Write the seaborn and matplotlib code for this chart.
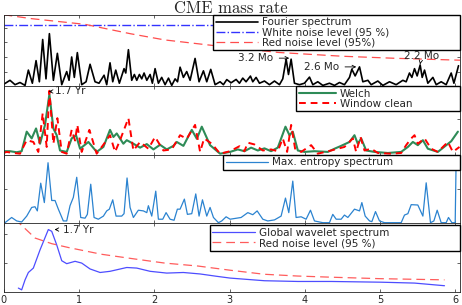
import matplotlib
matplotlib.use('Agg')
import pandas as pd
import matplotlib.pyplot as plt
import seaborn as sns

# frequency axis is in 1/yr
fourier_x = [0.0, 0.086, 0.153, 0.219, 0.286, 0.33, 0.383, 0.432, 0.476, 0.52,
             0.564, 0.609, 0.662, 0.715, 0.773, 0.839, 0.87, 0.905, 0.94, 0.98,
             1.038, 1.096, 1.149, 1.215, 1.268, 1.335, 1.37, 1.414, 1.45, 1.49,
             1.538, 1.6, 1.623, 1.658, 1.702, 1.737, 1.769, 1.804, 1.835, 1.866,
             1.902, 1.946, 1.976, 2.012, 2.056, 2.1, 2.145, 2.19, 2.233, 2.278,
             2.31, 2.344, 2.388, 2.432, 2.477, 2.543, 2.596, 2.654, 2.698, 2.751,
             2.809, 2.875, 2.919, 2.964, 3.021, 3.088, 3.132, 3.176, 3.22, 3.278,
             3.309, 3.353, 3.398, 3.464, 3.53, 3.597, 3.663, 3.707, 3.752, 3.783,
             3.818, 3.862, 3.929, 3.995, 4.062, 4.106, 4.172, 4.239, 4.327, 4.394,
             4.46, 4.526, 4.593, 4.624, 4.668, 4.726, 4.77, 4.837, 4.881, 4.969,
             5.036, 5.124, 5.212, 5.301, 5.345, 5.389, 5.421, 5.456, 5.491, 5.531,
             5.558, 5.589, 5.633, 5.7, 5.744, 5.81, 5.876, 5.943, 5.979, 6.04]
fourier_y = [0.12, 0.4, 0.1, 0.25, 0.05, 1.1, 0.2, 1.75, 0.3, 3.2,
             0.5, 3.6, 0.4, 2.25, 0.1, 1.0, 0.4, 2.0, 0.6, 2.3,
             0.1, 0.3, 1.5, 0.3, 0.2, 0.75, 0.1, 1.6, 0.3, 1.1,
             0.2, 1.2, 0.9, 2.5, 0.4, 0.8, 0.4, 0.8, 0.5, 0.9,
             0.4, 0.8, 0.2, 1.2, 0.2, 0.6, 0.1, 0.55, 0.05, 0.5,
             0.3, 1.3, 0.6, 1.0, 0.4, 1.9, 0.3, 1.05, 0.3, 1.15,
             0.1, 0.3, 0.1, 0.45, 0.23, 0.46, 0.2, 0.55, 0.3, 0.69,
             0.3, 0.6, 0.2, 0.35, 0.1, 0.35, 0.1, 0.5, 1.85, 0.8,
             1.85, 0.2, 0.1, 0.2, 0.62, 0.1, 0.3, 0.05, 0.2, 0.05,
             0.25, 0.1, 0.6, 1.16, 0.7, 1.32, 0.3, 0.4, 0.1, 0.35,
             0.05, 0.3, 0.1, 0.4, 0.3, 0.9, 0.6, 1.2, 0.7, 1.45,
             0.6, 1.1, 0.2, 0.6, 0.1, 0.3, 0.1, 0.9, 0.2, 1.4]
white_noise = 4.2
red1_x = [0.0, 0.37, 1.08, 1.69, 2.14, 2.71, 3.65, 4.5, 5.2, 6.06]
red1_y = [4.9, 4.63, 4.24, 3.59, 3.17, 2.83, 2.31, 2.05, 1.91, 1.78]

welch_x = [0.0, 0.02, 0.086, 0.175, 0.241, 0.308, 0.374, 0.432, 0.485, 0.551,
           0.609, 0.662, 0.706, 0.75, 0.839, 0.905, 0.963, 1.016, 1.127, 1.237,
           1.326, 1.414, 1.459, 1.503, 1.591, 1.636, 1.724, 1.813, 1.902, 1.99,
           2.078, 2.167, 2.255, 2.3, 2.388, 2.499, 2.566, 2.632, 2.742, 2.875,
           3.008, 3.11, 3.198, 3.287, 3.376, 3.464, 3.552, 3.641, 3.743, 3.796,
           3.84, 3.907, 3.995, 4.128, 4.305, 4.394, 4.482, 4.593, 4.659, 4.703,
           4.748, 4.814, 4.925, 5.102, 5.279, 5.368, 5.434, 5.5, 5.567, 5.633,
           5.766, 5.943, 6.032]
welch_y = [0.08, 0.1, 0.1, 0.07, 0.1, 0.65, 0.46, 0.74, 0.31, 0.84,
           1.7, 0.74, 0.55, 0.12, 0.08, 0.46, 0.55, 0.17, 0.36, 0.08,
           0.22, 0.7, 0.5, 0.6, 0.31, 0.41, 0.31, 0.2, 0.3, 0.15,
           0.28, 0.15, 0.25, 0.36, 0.25, 0.7, 0.45, 0.79, 0.27, 0.03,
           0.08, 0.15, 0.1, 0.2, 0.12, 0.18, 0.1, 0.2, 0.79, 0.55,
           0.65, 0.12, 0.08, 0.1, 0.08, 0.17, 0.25, 0.36, 0.55, 0.31,
           0.46, 0.12, 0.08, 0.05, 0.08, 0.22, 0.36, 0.27, 0.41, 0.17,
           0.08, 0.38, 0.65]

clean_x = [0.0, 0.042, 0.13, 0.219, 0.308, 0.396, 0.462, 0.52, 0.573, 0.609,
           0.662, 0.715, 0.773, 0.839, 0.905, 0.95, 0.98, 1.038, 1.14, 1.237,
           1.335, 1.414, 1.481, 1.547, 1.658, 1.724, 1.813, 1.923, 2.012, 2.122,
           2.233, 2.344, 2.432, 2.543, 2.61, 2.663, 2.765, 2.875, 3.008, 3.132,
           3.198, 3.243, 3.331, 3.442, 3.552, 3.641, 3.707, 3.765, 3.818, 3.871,
           3.951, 4.084, 4.172, 4.349, 4.526, 4.637, 4.681, 4.739, 4.792, 4.881,
           4.969, 5.146, 5.279, 5.345, 5.412, 5.456, 5.5, 5.589, 5.677, 5.766,
           5.899, 5.965, 6.053]
clean_y = [0.05, 0.08, 0.05, 0.03, 0.41, 0.36, 0.08, 1.17, 0.22, 1.8,
           0.31, 1.03, 0.08, 0.03, 0.7, 0.4, 0.84, 0.08, 0.7, 0.03,
           0.31, 0.55, 0.08, 0.41, 1.03, 0.12, 0.36, 0.17, 0.5, 0.12,
           0.15, 0.55, 0.45, 0.84, 0.08, 0.46, 0.31, 0.03, 0.1, 0.24,
           0.1, 0.34, 0.29, 0.12, 0.15, 0.1, 0.46, 0.08, 0.84, 0.17,
           0.08, 0.27, 0.03, 0.12, 0.22, 0.46, 0.08, 0.5, 0.12, 0.17,
           0.05, 0.03, 0.05, 0.27, 0.46, 0.55, 0.31, 0.46, 0.17, 0.08,
           0.36, 0.08, 0.22]

mem_x = [0.02, 0.108, 0.175, 0.241, 0.308, 0.374, 0.418, 0.449, 0.494, 0.542,
         0.591, 0.64, 0.684, 0.728, 0.794, 0.839, 0.883, 0.927, 0.972, 1.025,
         1.082, 1.113, 1.158, 1.202, 1.259, 1.326, 1.37, 1.405, 1.45, 1.494,
         1.569, 1.6, 1.64, 1.68, 1.724, 1.79, 1.857, 1.902, 1.923, 1.968,
         2.021, 2.056, 2.114, 2.158, 2.211, 2.264, 2.308, 2.344, 2.401, 2.441,
         2.499, 2.552, 2.596, 2.641, 2.698, 2.742, 2.787, 2.853, 2.897, 2.955,
         3.008, 3.154, 3.243, 3.309, 3.367, 3.442, 3.508, 3.597, 3.685, 3.743,
         3.787, 3.84, 3.884, 3.951, 4.017, 4.075, 4.128, 4.239, 4.327, 4.371,
         4.416, 4.482, 4.526, 4.571, 4.659, 4.726, 4.757, 4.801, 4.859, 4.89,
         4.938, 4.991, 5.058, 5.279, 5.323, 5.368, 5.412, 5.5, 5.567, 5.611,
         5.668, 5.713, 5.757, 5.81, 5.876, 5.907, 5.952, 5.996, 6.013]
mem_y = [0.02, 0.17, 0.07, 0.04, 0.21, 0.46, 0.48, 0.36, 1.16, 0.6,
         1.75, 0.66, 0.66, 0.41, 0.07, 0.07, 0.51, 0.75, 1.33, 0.17,
         0.15, 0.26, 1.13, 0.17, 0.12, 0.21, 0.36, 0.41, 0.68, 0.21,
         0.21, 0.28, 1.31, 0.46, 0.17, 0.38, 0.36, 0.31, 0.51, 0.21,
         0.93, 0.12, 0.12, 0.31, 0.12, 0.09, 0.41, 0.41, 0.7, 0.26,
         0.28, 0.85, 0.21, 0.68, 0.21, 0.46, 0.17, 0.02, 0.07, 0.19,
         0.12, 0.17, 0.31, 0.25, 0.36, 0.12, 0.07, 0.1, 0.21, 0.73,
         0.31, 1.22, 0.17, 0.19, 0.12, 0.38, 0.07, 0.02, 0.02, 0.26,
         0.12, 0.12, 0.24, 0.17, 0.41, 0.36, 0.6, 0.21, 0.07, 0.05,
         0.34, 0.07, 0.02, 0.02, 0.24, 0.28, 0.54, 0.53, 0.21, 1.17,
         0.02, 0.07, 0.38, 0.02, 0.02, 0.17, 0.02, 0.02, 2.5]

gws_x = [0.197, 0.241, 0.286, 0.33, 0.396, 0.485, 0.595, 0.64, 0.706, 0.773,
         0.839, 0.95, 1.038, 1.149, 1.282, 1.414, 1.636, 1.769, 1.946, 2.167,
         2.388, 2.61, 2.831, 3.008, 3.464, 3.907, 4.349, 5.013, 5.456, 5.854]
gws_y = [0.15, 0.09, 0.43, 0.68, 0.83, 1.45, 2.14, 2.08, 1.62, 1.08,
         0.98, 1.06, 1.0, 0.8, 0.68, 0.72, 0.85, 0.83, 0.72, 0.66,
         0.68, 0.63, 0.55, 0.49, 0.4, 0.375, 0.375, 0.35, 0.32, 0.23]
red4_x = [0.15, 0.42, 0.64, 0.86, 1.3, 1.74, 2.14, 2.58, 3.0, 3.46,
          3.9, 4.35, 5.0, 5.854]
red4_y = [2.5, 1.85, 1.66, 1.53, 1.3, 1.14, 1.0, 0.9, 0.76, 0.62,
          0.56, 0.52, 0.47, 0.43]

x_ticks = [0, 1, 2, 3, 4, 5, 6]
legend_kw = dict(fontsize=7.5, frameon=True, fancybox=False, framealpha=1,
                 edgecolor='black', borderpad=0.25, labelspacing=0.0,
                 handletextpad=0.35, borderaxespad=0, mode='expand',
                 loc='upper left')


def style_axis(ax, ylim, yticks):
    ax.set_xlim(0, 6.06)
    ax.set_ylim(*ylim)
    ax.set_xticks(x_ticks)
    ax.set_yticks(yticks)
    ax.tick_params(direction='in', top=True, right=True, length=2.5,
                   width=0.5, labelleft=False, labelbottom=False,
                   labelsize=7, pad=2)
    for s in ax.spines.values():
        s.set_linewidth(0.6)
        s.set_color('#222222')
    ax.set_xlabel('')
    ax.set_ylabel('')


sns.set_style('ticks')
plt.rcParams['font.family'] = ['DejaVu Sans']

fig = plt.figure(figsize=(4.62, 3.05), dpi=100)
gs = fig.add_gridspec(4, 1, height_ratios=[70.8, 68, 68, 68.5], hspace=0,
                      left=0.0076, right=0.9957, top=0.9518, bottom=0.041)
axes = [fig.add_subplot(gs[i]) for i in range(4)]

# panel 1 : fourier spectrum
ax = axes[0]
sns.lineplot(x=fourier_x, y=fourier_y, ax=ax, color='black', lw=1.2,
             label='Fourier spectrum')
sns.lineplot(x=[0, 6.06], y=[white_noise, white_noise], ax=ax,
             color='#3333ff', lw=1.0, linestyle='-.',
             label='White noise level (95 %)')
sns.lineplot(x=red1_x, y=red1_y, ax=ax, color='#ff4d4d', lw=0.9,
             linestyle=(0, (7, 4)), label='Red noise level (95%)')
style_axis(ax, (0, 4.9), [1, 2, 3, 4])
ax.legend(bbox_to_anchor=(0.459, 0.0, 0.541, 1.0), handlelength=4.1,
          **legend_kw)
arr = dict(arrowstyle='->', lw=0.6, color='black', mutation_scale=6)
ax.annotate('3.2 Mo', xy=(3.83, 1.92), xytext=(3.58, 1.92), ha='right',
            va='center', fontsize=7.5, arrowprops=arr)
ax.annotate('2.6 Mo', xy=(4.72, 1.32), xytext=(4.22, 1.32), ha='center',
            va='center', fontsize=7.5, arrowprops=arr)
ax.annotate('2.2 Mo', xy=(5.53, 1.5), xytext=(5.55, 2.08), ha='center',
            va='center', fontsize=7.5, arrowprops=arr)

# panel 2 : welch and window clean
ax = axes[1]
sns.lineplot(x=welch_x, y=welch_y, ax=ax, color='#2e8b57', lw=1.5,
             label='Welch')
sns.lineplot(x=clean_x, y=clean_y, ax=ax, color='#ff0000', lw=1.4,
             linestyle=(0, (3.5, 2.5)), label='Window clean')
style_axis(ax, (0, 1.93), [1])
ax.legend(bbox_to_anchor=(0.641, 0.0, 0.359, 1.0), handlelength=3.6,
          **legend_kw)
ax.annotate('1.7 Yr', xy=(0.6, 1.78), xytext=(0.68, 1.78), ha='left',
            va='center', fontsize=7.5, arrowprops=arr)

# panel 3 : max entropy
ax = axes[2]
sns.lineplot(x=mem_x, y=mem_y, ax=ax, color='#2b83d0', lw=0.9,
             label='Max. entropy spectrum')
style_axis(ax, (0, 1.98), [1])
ax.legend(bbox_to_anchor=(0.481, 0.0, 0.519, 1.0), handlelength=4.1,
          **legend_kw)

# panel 4 : global wavelet spectrum
ax = axes[3]
sns.lineplot(x=gws_x, y=gws_y, ax=ax, color='#4d4dff', lw=0.9,
             label='Global wavelet spectrum')
sns.lineplot(x=red4_x, y=red4_y, ax=ax, color='#ff5c5c', lw=0.9,
             linestyle=(0, (7, 4)), label='Red noise level (95 %)')
style_axis(ax, (0, 2.35), [1, 2])
ax.tick_params(labelbottom=True)
ax.legend(bbox_to_anchor=(0.452, 0.0, 0.548, 0.97), handlelength=4.1,
          **legend_kw)
ax.annotate('1.7 Yr', xy=(0.64, 2.14), xytext=(0.79, 2.14), ha='left',
            va='center', fontsize=7.5, arrowprops=arr)

fig.text(0.5, 0.998, 'CME mass rate', ha='center', va='top',
         fontsize=12, family='cmr10')

fig.savefig('out.png', dpi=100)
